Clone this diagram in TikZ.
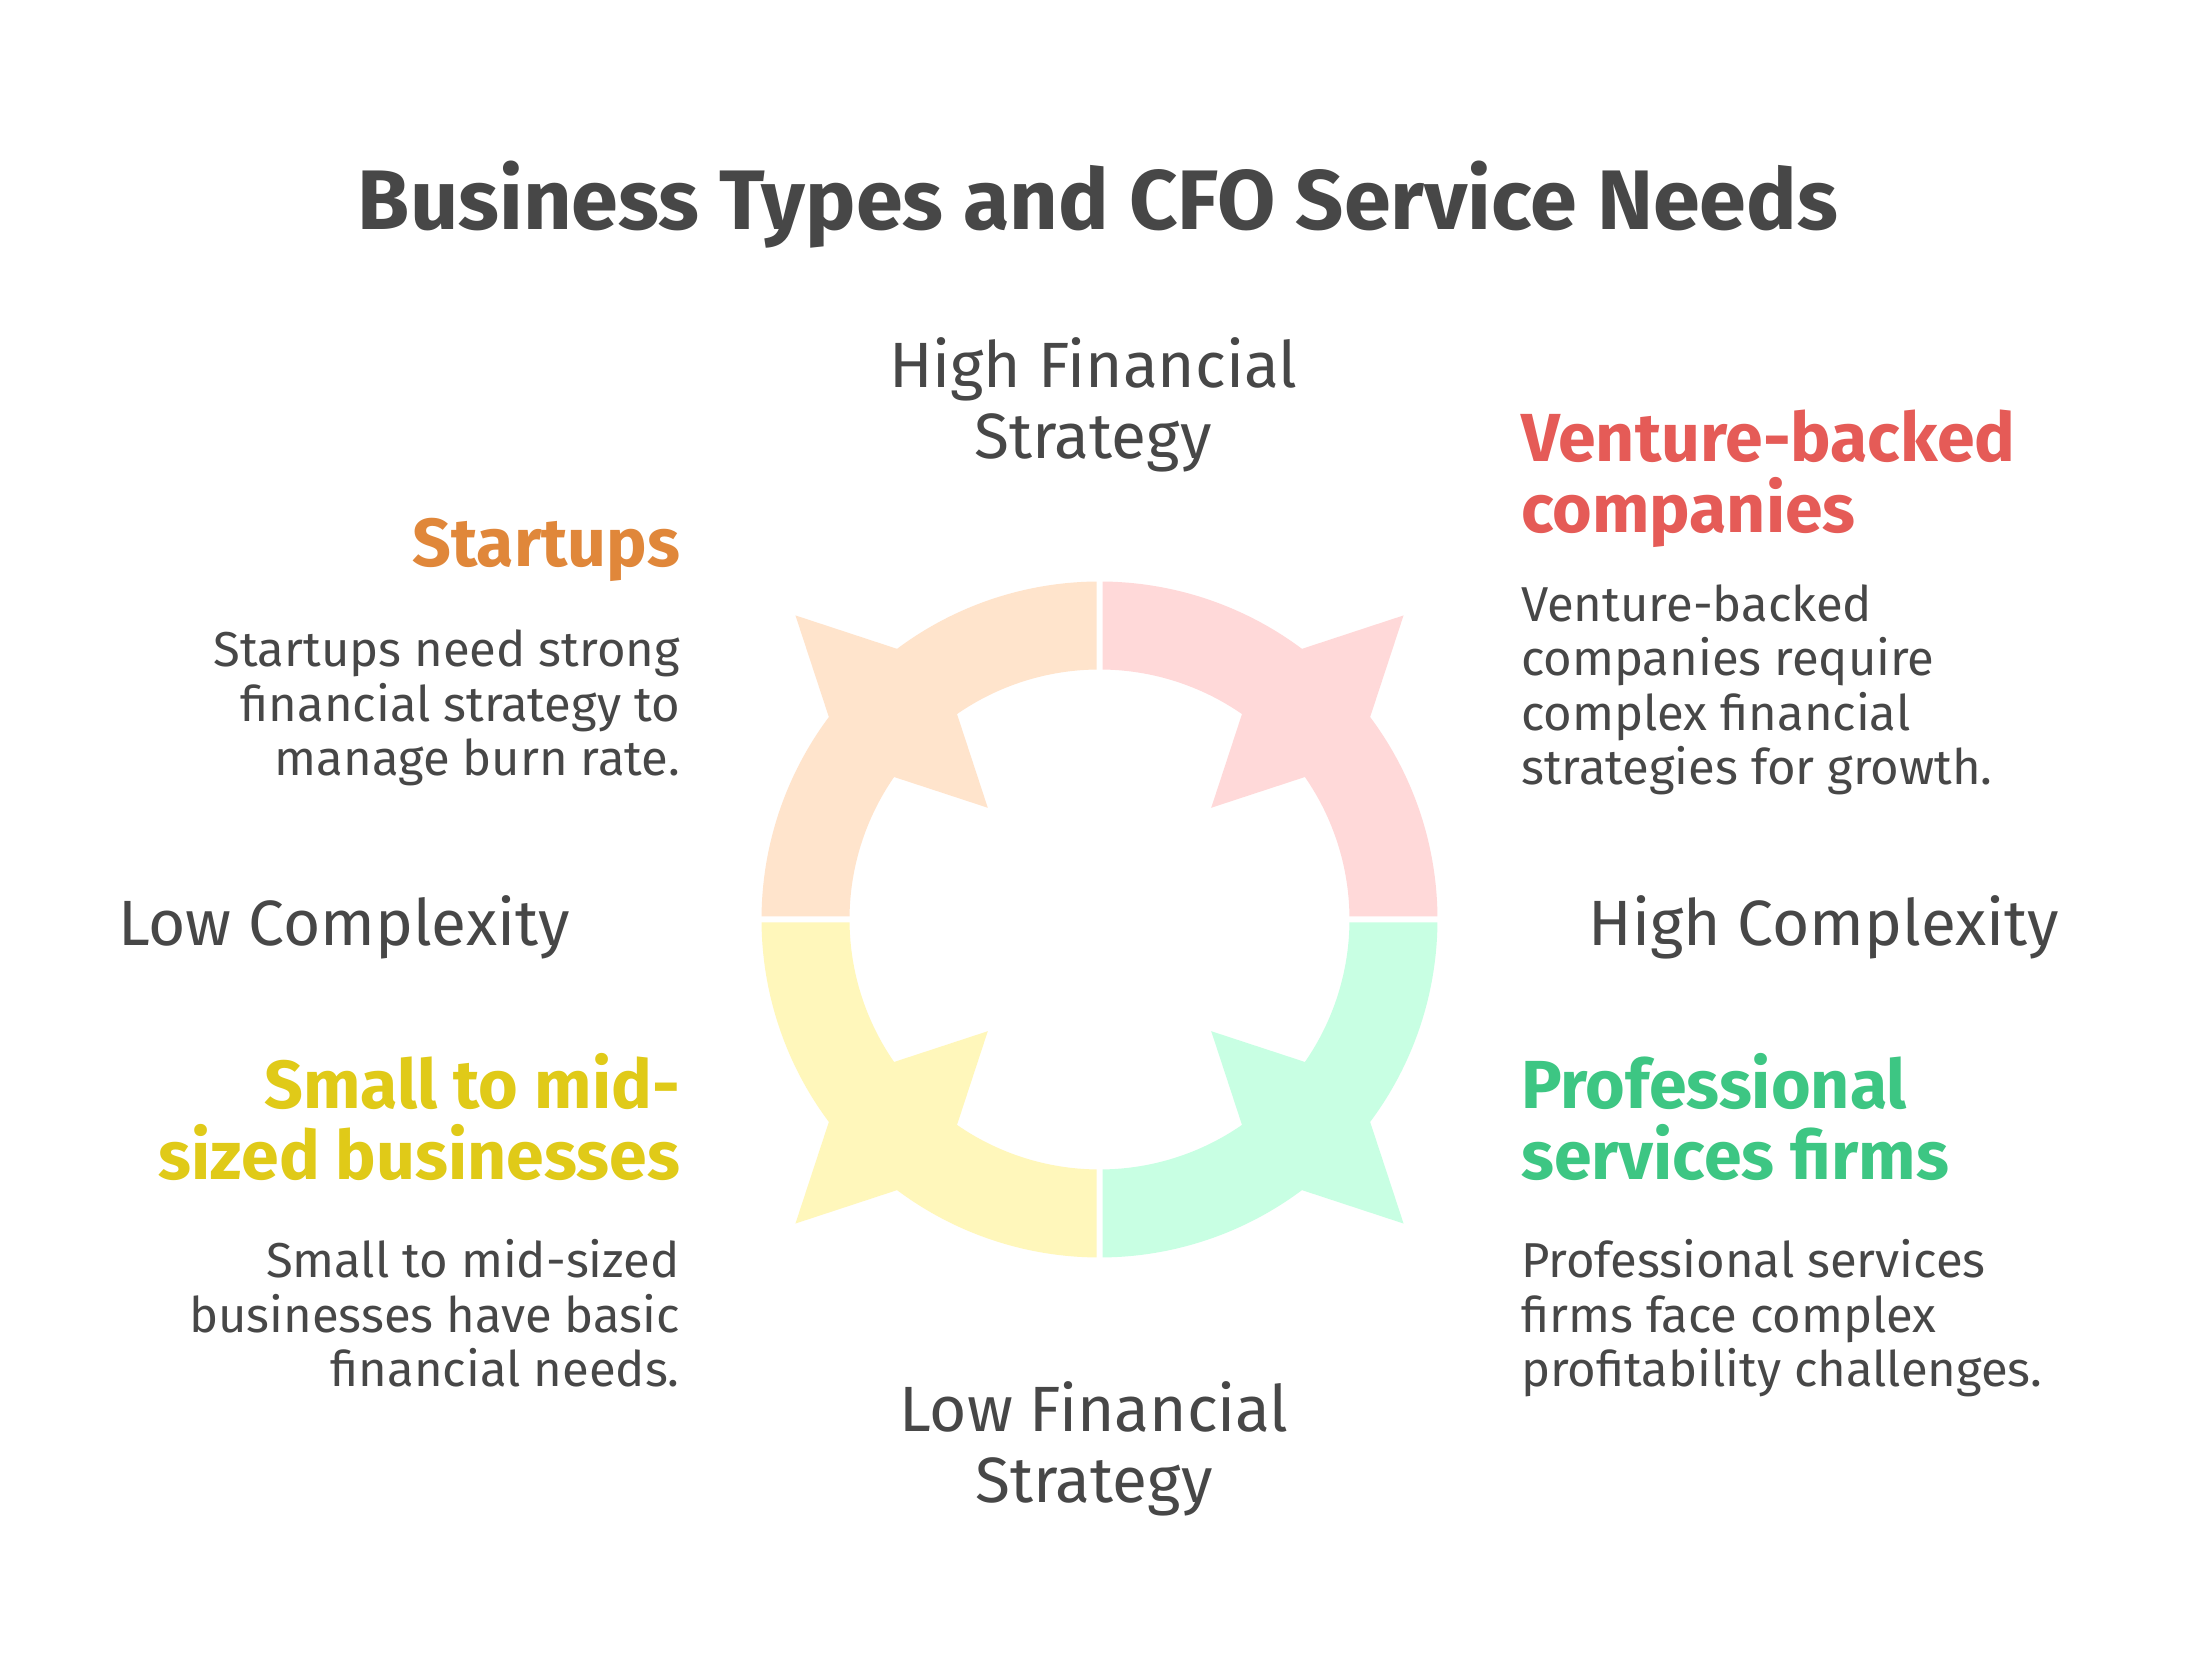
\documentclass[tikz,border=0pt]{standalone}
\usepackage{fontspec}
\setmainfont{Fira Sans}
\usetikzlibrary{calc}
\definecolor{txt}{HTML}{474747}
\definecolor{orangefill}{HTML}{FFE4CC}
\definecolor{redfill}{HTML}{FFD9D9}
\definecolor{yellowfill}{HTML}{FFF7BB}
\definecolor{greenfill}{HTML}{C8FFE3}
\definecolor{orangetxt}{HTML}{E0873A}
\definecolor{redtxt}{HTML}{E55B57}
\definecolor{yellowtxt}{HTML}{E0CA18}
\definecolor{greentxt}{HTML}{3DC683}
\tikzset{
  titletext/.style={font=\bfseries\fontsize{84.5}{90}\selectfont, text=txt, inner sep=0pt},
  axislabel/.style={font=\fontsize{64}{71}\selectfont, text=txt, inner sep=0pt},
  headtext/.style={font=\bfseries\fontsize{68}{71.5}\selectfont, inner sep=0pt},
  bodytext/.style={font=\fontsize{49}{54.5}\selectfont, text=txt, inner sep=0pt},
}
\begin{document}
\begin{tikzpicture}[x=1pt,y=1pt]
\useasboundingbox (0,0) rectangle (2196,1656);
\fill[white] (0,0) rectangle (2196,1656);

% ring of four quadrant shapes
\begin{scope}[shift={(1099.5,736.5)}]
\foreach \d/\c in {135/orangefill,45/redfill,315/greenfill,225/yellowfill}{
  \fill[\c] ({\d-44.49}:338) arc[start angle={\d-44.49}, end angle={\d-8.2}, radius=338]
    -- (\d:430) -- ({\d+8.2}:338)
    arc[start angle={\d+8.2}, end angle={\d+44.49}, radius=338]
    -- ({\d+44.31}:250)
    arc[start angle={\d+44.31}, end angle={\d+10.25}, radius=250]
    -- (\d:158) -- ({\d-10.25}:250)
    arc[start angle={\d-10.25}, end angle={\d-44.31}, radius=250] -- cycle;
}
\end{scope}

\node[titletext, anchor=base] (title) at (1098,1426) {Business Types and CFO Service Needs};

% base anchor of a multi-line node = baseline of its last line
\node[axislabel, anchor=base, align=center] (highfin) at (1093,1197) {High Financial\\Strategy};
\node[axislabel, anchor=base, align=center] (lowfin) at (1094,153) {Low Financial\\Strategy};
\node[axislabel, anchor=base west] (lowcx) at (118,710) {Low Complexity};
\node[axislabel, anchor=base east] (highcx) at (2059,710) {High Complexity};

\node[headtext, text=orangetxt, anchor=base east, align=right] (starth) at (680,1089) {Startups};
\node[bodytext, anchor=base east, align=right] (startb) at (680,880) {Startups need strong\\financial strategy to\\manage burn rate.};

\node[headtext, text=yellowtxt, anchor=base east, align=right] (smallh) at (680,476) {Small to mid-\\sized businesses};
\node[bodytext, anchor=base east, align=right] (smallb) at (680,269) {Small to mid-sized\\businesses have basic\\financial needs.};

\node[headtext, text=redtxt, anchor=base west, align=left] (ventureh) at (1521,1123) {Venture-backed\\companies};
\node[bodytext, anchor=base west, align=left] (ventureb) at (1521,871) {Venture-backed\\companies require\\complex financial\\strategies for growth.};

\node[headtext, text=greentxt, anchor=base west, align=left] (profh) at (1521,476) {Professional\\services firms};
\node[bodytext, anchor=base west, align=left] (profb) at (1521,269) {Professional services\\firms face complex\\profitability challenges.};
\end{tikzpicture}
\end{document}
